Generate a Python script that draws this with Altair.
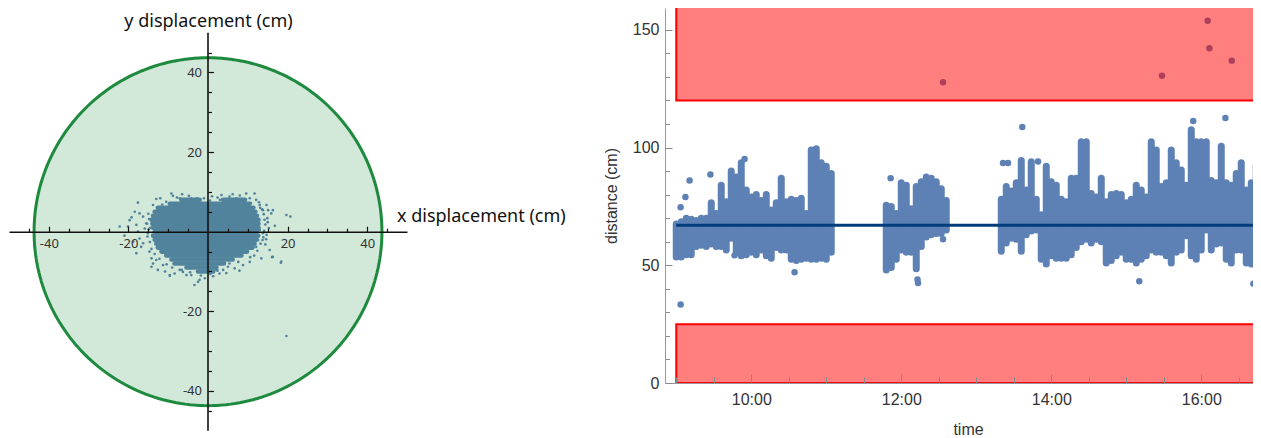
import numpy as np
import pandas as pd
import altair as alt

# ------------------------------------------------------------------
# Left panel: displacement scatter inside a safety circle
# ------------------------------------------------------------------
CIRCLE_RADIUS = 43.7
AXIS_LIMIT = 50
X_TICK_LABELS = [-40, -20, 20, 40]
Y_TICK_LABELS = [-40, -20, 20, 40]
MINOR_TICKS = [-45, -40, -35, -30, -25, -20, -15, -10, -5, 5, 10, 15, 20, 25, 30, 35, 40, 45]

# dense core of the cloud, one row per cm: y, x-start, x-end
CORE_ROW_Y = [8, 8, 7, 6, 5, 4, 3, 2, 1, 0, -1, -2, -3, -4, -5, -6, -7, -8, -9, -10]
CORE_ROW_X0 = [-6.7, 3.8, -9.6, -12.6, -13.4, -13.8, -14.2, -14.0, -13.8, -13.4,
               -13.8, -13.4, -13.0, -12.6, -11.7, -10.5, -9.2, -8.4, -5.4, -2.5]
CORE_ROW_X1 = [-2.1, 9.3, 10.4, 11.4, 11.9, 12.3, 12.7, 12.7, 12.7, 12.3,
               12.6, 12.2, 11.7, 11.2, 9.8, 8.4, 6.2, 4.0, 2.1, 1.3]

# scattered points around the core
FRINGE_X = [-9.2, -8.8, -12.0, -17.6, -13.8, -10.5, -8.4, -7.1, -5.4, -4.2, -2.8, -2.1,
            3.4, 5.4, 7.1, 9.6, 11.7, 10.5, 12.1, 14.7, 15.9, 16.3, 19.7, 20.7, 13.0, 13.8, 15.1,
            -18.4, -17.2, -16.3, -19.7, -18.0, -20.1, -22.2, -15.5, -15.9, -17.6, -15.1, -17.2,
            -18.8, -16.3, -16.8, -18.0, -14.7, -14.2, -13.8, -14.2, -11.3, -13.0,
            13.0, 13.8, 14.7, 12.6, 12.1, 13.4, 16.3, 18.4, 8.8, 6.7, 5.4,
            -9.6, -8.4, -6.3, -5.4, -7.1, -2.1, -0.8, -2.5, 2.1, 2.9, 3.8, 0.4, -4.2,
            19.7, 16.1, 18.3, -12.6, -10.8, -3.4, 1.3, 4.6, 7.9, 10.5, 11.6, -19.2, -21.0,
            -13.0, -6.5, 1.0, 3.0, 8.0, 12.8, 15.0, 16.8, 14.4, 15.5, -9.6, -14.5, 13.7,
            -15.0, -14.8, -15.3, -14.9, -15.2, -14.6, -14.2, -13.4, -12.2, -10.4, -9.0,
            13.6, 14.0, 14.2, 14.4, 14.1, 13.9, 13.2, 12.4, 10.6, 7.6, 5.0,
            -11.5, -7.8, -4.8, -1.0, 0.5, 2.4, 6.2, 9.0, 10.8,
            -4.5, -1.8, 0.6, 2.4, -6.6, 14.9, 15.3, 14.6, 13.1]
FRINGE_Y = [9.6, 9.0, 8.4, 7.3, 6.7, 7.5, 7.1, 8.4, 8.0, 8.4, 8.4, 8.1,
            9.2, 8.8, 8.4, 9.6, 9.6, 8.4, 8.0, 6.7, 4.6, 5.4, 4.2, 3.8, 6.7, 5.4, 5.4,
            5.0, 4.6, 3.8, 2.9, 1.7, 1.3, 1.3, 2.1, 0.8, 0.0, -0.4, -1.7,
            -2.5, -2.9, -3.8, -5.4, -5.0, -6.7, -8.0, -8.8, -8.4, -7.1,
            0.4, -0.4, -0.8, -2.1, -3.8, -6.7, -6.3, -7.5, -8.4, -9.2, -8.0,
            -10.9, -10.5, -10.1, -10.9, -9.6, -12.1, -11.7, -12.6, -9.6, -10.5, -9.6, -9.6, -10.9,
            -26.2, -6.4, -7.8, -9.6, -10.0, -13.4, -11.2, -10.4, -9.8, -7.6, -6.0, 3.6, -1.0,
            8.2, 9.4, 8.9, 8.0, 9.1, 7.4, 2.4, 1.5, -3.2, -4.6, -11.1, 1.0, -2.1,
            4.5, 3.2, 2.0, 0.6, -1.2, -2.6, -4.3, -5.6, -6.8, -8.2, -9.0,
            5.6, 4.4, 3.0, 1.8, 0.2, -1.4, -3.0, -4.8, -6.4, -7.6, -8.8,
            6.8, 8.6, 9.0, 8.4, 7.8, 8.6, 9.4, 8.0, 7.2,
            -10.2, -11.0, -10.6, -9.8, -9.6, 3.4, 0.9, -1.9, 6.0]

# ------------------------------------------------------------------
# Right panel: distance over time
# ------------------------------------------------------------------
BIN_TIMES = ["09:00", "09:04", "09:08", "09:12", "09:16", "09:20", "09:24", "09:28", "09:32",
             "09:36", "09:40", "09:44", "09:48", "09:52", "09:56", "10:00", "10:04", "10:08",
             "10:12", "10:16", "10:20", "10:24", "10:28", "10:32", "10:36", "10:40", "10:44",
             "10:48", "10:52", "10:56", "11:00", "11:04",
             "11:48", "11:52", "11:56", "12:00", "12:04", "12:08", "12:12", "12:16", "12:20",
             "12:24", "12:28", "12:32", "12:36",
             "13:20", "13:24", "13:28", "13:32", "13:36", "13:40", "13:44", "13:48", "13:52",
             "13:56", "14:00", "14:04", "14:08", "14:12", "14:16", "14:20", "14:24", "14:28",
             "14:32", "14:36", "14:40", "14:44", "14:48", "14:52", "14:56", "15:00", "15:04",
             "15:08", "15:12", "15:16", "15:20", "15:24", "15:28", "15:32", "15:36", "15:40",
             "15:44", "15:48", "15:52", "15:56", "16:00", "16:04", "16:08", "16:12", "16:16",
             "16:20", "16:24", "16:28", "16:32", "16:36", "16:40", "16:44", "16:48"]
BIN_LOW = [53.5, 53.5, 54.5, 54.5, 58, 58.5, 58, 59, 58,
           58, 56.5, 61.5, 55.5, 54, 54.5, 55.5, 54.5, 56.5,
           54, 53, 57.5, 56.5, 56.5, 52.5, 52, 52.5, 53,
           52.5, 52.5, 53, 52.5, 55.5,
           48, 49, 52.5, 56.5, 55.5, 55.5, 48.5, 58, 62,
           63, 63.5, 63.5, 65,
           56, 59.5, 61.5, 61, 56, 63, 64.5, 65, 52.5,
           50.5, 54, 53, 53, 53, 54.5, 57.5, 60, 61,
           59.5, 61, 60, 51, 52, 54, 55.5, 52.5, 52.5,
           51, 52.5, 54, 56.5, 55.5, 55.5, 54, 51, 55.5,
           56.5, 62.5, 54, 52.5, 56.5, 65, 56.5, 59, 59.5,
           52.5, 51, 56.5, 56.5, 51, 50.5, 49.5, 52]
BIN_HIGH = [67.5, 68.5, 70, 69.5, 69, 70, 70, 76.5, 72,
            84, 77, 90, 87.5, 93.5, 82, 79, 80, 77.5,
            80, 73.5, 76.5, 87, 77, 78, 77.5, 78.5, 72,
            99, 99.5, 93.5, 92, 89,
            75.5, 75, 72, 85, 84, 74, 83.5, 85.5, 87.5,
            87, 85.5, 82.5, 77.5,
            78, 83.5, 81.5, 85, 94.5, 82, 94, 78, 71.5,
            92, 85.5, 84, 78, 77, 87, 87, 102.5, 102.5,
            80.5, 79, 87, 77, 80, 80.5, 80, 76.5, 78,
            84, 82, 79, 102.5, 99, 83.5, 85, 99, 93.5,
            90.5, 84, 107.5, 102.5, 102.5, 102.5, 86, 85, 100.5,
            85, 84, 89, 93.5, 82, 85, 92, 84]

SINGLE_TIMES = ["09:03:30", "09:03:30", "09:07:20", "09:10:40", "09:27:20", "09:46:40",
                "09:54:40", "10:34:40", "11:51:30", "12:13:00", "12:13:25", "12:33:25",
                "13:21:25", "13:25:25", "13:36:50", "13:49:25", "15:10:25", "15:53:35",
                "16:19:20", "16:41:40", "12:33:25", "15:28:35", "16:05:10", "16:06:30",
                "16:24:25"]
SINGLE_VALUES = [74.6, 33.3, 79.0, 86.0, 88.5, 54.2, 95.1, 47.0, 87.0, 44.0, 42.5, 61.0,
                 93.4, 93.4, 108.7, 94.1, 43.2, 111.3, 112.5, 42.2, 127.7, 130.5, 153.8,
                 142.2, 136.9]

MEAN_DISTANCE = 67.0
LOW_LIMIT = 25
HIGH_LIMIT = 120
BAND_START = "09:00"
BAND_END = "16:46"
Y_TICK_VALUES_R = [0, 50, 100, 150]
Y_MINOR_R = [0, 10, 20, 30, 40, 50, 60, 70, 80, 90, 100, 110, 120, 130, 140, 150]
X_TICK_HOURS = [10, 12, 14, 16]
X_MINOR_HOURS = [9.0, 9.5, 10.0, 10.5, 11.0, 11.5, 12.0, 12.5, 13.0, 13.5, 14.0, 14.5,
                 15.0, 15.5, 16.0, 16.5]


def to_hours(s):
    parts = [int(p) for p in s.split(":")]
    while len(parts) < 3:
        parts.append(0)
    return parts[0] + parts[1] / 60 + parts[2] / 3600


# ------------------------------------------------------------------
# styling / layout constants
# ------------------------------------------------------------------
BLUE = "#5e81b5"
GREEN = "#1d8a3d"
LEFT_FONT = "Noto Sans"
RIGHT_FONT = "Liberation Sans"

W_L, H_L = 398, 422.7
Y_TOP_L = 56.2
W_R, H_R = 588, 375.0
T0 = 8.85
T1 = T0 + W_R / 75.0
Y_TOP_R = 159.25

xs_L = alt.Scale(domain=[-AXIS_LIMIT, AXIS_LIMIT], nice=False, zero=False)
ys_L = alt.Scale(domain=[-AXIS_LIMIT, Y_TOP_L], nice=False, zero=False)
y0_from_bottom = (0 - (-AXIS_LIMIT)) / (Y_TOP_L + AXIS_LIMIT) * H_L
y0_from_top = H_L - y0_from_bottom

# ----- left data frames
core_df = pd.DataFrame({"y": CORE_ROW_Y, "x0": CORE_ROW_X0, "x1": CORE_ROW_X1})
fringe_df = pd.DataFrame({"x": FRINGE_X, "y": FRINGE_Y})
theta = np.linspace(0, 2 * np.pi, 241)
outline_df = pd.DataFrame({"x": CIRCLE_RADIUS * np.cos(theta),
                           "y": CIRCLE_RADIUS * np.sin(theta),
                           "i": np.arange(len(theta))})
half = np.linspace(np.pi, 0, 181)
disk_df = pd.DataFrame({"x": CIRCLE_RADIUS * np.cos(half),
                        "top": CIRCLE_RADIUS * np.sin(half),
                        "bot": -CIRCLE_RADIUS * np.sin(half)})
yaxis_df = pd.DataFrame({"x": [0], "y0": [-AXIS_LIMIT], "y1": [AXIS_LIMIT]})

x_lab_axis_L = alt.Axis(orient="bottom", offset=-y0_from_bottom, values=X_TICK_LABELS,
                        labelExpr="'' + datum.value", ticks=False, tickSize=0, grid=False,
                        domain=True, domainColor="#111111", domainWidth=1.6,
                        labelFont=LEFT_FONT, labelFontSize=13, labelColor="#333333",
                        labelPadding=6, labelFlush=False,
                        title="x displacement (cm)", titleX=387.5, titleY=-10,
                        titleAngle=0, titleAlign="left", titleBaseline="alphabetic",
                        titleFont=LEFT_FONT, titleFontSize=18, titleFontWeight="normal",
                        titleColor="#111111", zindex=1)
y_lab_axis_L = alt.Axis(orient="left", offset=-W_L / 2, values=Y_TICK_LABELS,
                        labelExpr="'' + datum.value", ticks=False, tickSize=0, grid=False,
                        domain=False, labelFont=LEFT_FONT, labelFontSize=13,
                        labelColor="#333333", labelPadding=6.5,
                        title="y displacement (cm)", titleX=0, titleY=18.7, titleAngle=0,
                        titleAlign="center", titleBaseline="alphabetic",
                        titleFont=LEFT_FONT, titleFontSize=18, titleFontWeight="normal",
                        titleColor="#111111", zindex=1)
x_tick_axis_L = alt.Axis(orient="top", offset=-y0_from_top, values=MINOR_TICKS,
                         labels=False, domain=False, grid=False, title=None,
                         tickColor="#111111", tickWidth=1.2,
                         tickSize={"condition": {"test": "datum.value % 20 === 0", "value": 5.5},
                                   "value": 3.5}, zindex=1)
y_tick_axis_L = alt.Axis(orient="right", offset=-W_L / 2, values=MINOR_TICKS,
                         labels=False, domain=False, grid=False, title=None,
                         tickColor="#111111", tickWidth=1.2,
                         tickSize={"condition": {"test": "datum.value % 20 === 0", "value": 5.5},
                                   "value": 3.5}, zindex=1)

core = alt.Chart(core_df).mark_rule(strokeWidth=4.6, color=BLUE, strokeCap="round").encode(
    x=alt.X("x0:Q", scale=xs_L, axis=x_lab_axis_L),
    x2="x1:Q",
    y=alt.Y("y:Q", scale=ys_L, axis=y_lab_axis_L),
)
fringe = alt.Chart(fringe_df).mark_circle(size=7, color=BLUE, opacity=1).encode(
    x=alt.X("x:Q", scale=xs_L, axis=None),
    y=alt.Y("y:Q", scale=ys_L, axis=None),
)
disk = alt.Chart(disk_df).mark_area(color=GREEN, opacity=0.2).encode(
    x=alt.X("x:Q", scale=xs_L, axis=None),
    y=alt.Y("top:Q", scale=ys_L, axis=None),
    y2="bot:Q",
)
outline = alt.Chart(outline_df).mark_line(color=GREEN, strokeWidth=3).encode(
    x=alt.X("x:Q", scale=xs_L, axis=None),
    y=alt.Y("y:Q", scale=ys_L, axis=None),
    order="i:Q",
)
yline = alt.Chart(yaxis_df).mark_rule(color="#111111", strokeWidth=1.6).encode(
    x=alt.X("x:Q", scale=xs_L, axis=x_tick_axis_L),
    y=alt.Y("y0:Q", scale=ys_L, axis=y_tick_axis_L),
    y2="y1:Q",
)
left = alt.layer(core, fringe, disk, outline, yline).resolve_axis(
    x="independent", y="independent").properties(width=W_L, height=H_L)

# ----- right data frames
bins_df = pd.DataFrame({"t": [to_hours(s) for s in BIN_TIMES], "lo": BIN_LOW, "hi": BIN_HIGH})
single_df = pd.DataFrame({"t": [to_hours(s) for s in SINGLE_TIMES], "v": SINGLE_VALUES})
mean_df = pd.DataFrame({"t0": [to_hours(BAND_START)], "t1": [T1 + 1],
                        "v": [MEAN_DISTANCE]})
band_df = pd.DataFrame({"t0": [to_hours(BAND_START)] * 2, "t1": [to_hours(BAND_END)] * 2,
                        "v0": [HIGH_LIMIT, 0], "v1": [160, LOW_LIMIT]})

xs_R = alt.Scale(domain=[T0, T1], nice=False, zero=False)
ys_R = alt.Scale(domain=[0, Y_TOP_R], nice=False, zero=False)

x_lab_axis_R = alt.Axis(orient="bottom", values=X_TICK_HOURS, labelExpr="datum.value + ':00'",
                        ticks=False, tickSize=0, grid=False, domainColor="#999999",
                        domainWidth=1, labelFont=RIGHT_FONT, labelFontSize=16,
                        labelColor="#333333", labelPadding=8, labelFlush=False,
                        title="time", titleX=303, titlePadding=14, titleFont=RIGHT_FONT,
                        titleFontSize=16, titleFontWeight="normal", titleColor="#333333")
y_lab_axis_R = alt.Axis(orient="left", values=Y_TICK_VALUES_R, ticks=False, tickSize=0,
                        grid=False, domainColor="#999999", domainWidth=1,
                        labelFont=RIGHT_FONT, labelFontSize=16, labelColor="#333333",
                        labelPadding=6, title="distance (cm)", titlePadding=13,
                        titleFont=RIGHT_FONT, titleFontSize=16, titleFontWeight="normal",
                        titleColor="#333333")
x_tick_axis_R = alt.Axis(orient="top", offset=-H_R, values=X_MINOR_HOURS, labels=False,
                         domain=False, grid=False, title=None, tickColor="#8a8a8a",
                         tickWidth=1,
                         tickSize={"condition": {"test": "datum.value % 2 === 0", "value": 9},
                                   "value": 6}, zindex=1)
y_tick_axis_R = alt.Axis(orient="right", offset=-W_R, values=Y_MINOR_R, labels=False,
                         domain=False, grid=False, title=None, tickColor="#8a8a8a",
                         tickWidth=1,
                         tickSize={"condition": {"test": "datum.value % 50 === 0", "value": 7},
                                   "value": 4.5}, zindex=1)

bins = alt.Chart(bins_df).mark_rule(strokeWidth=7, strokeCap="round", color=BLUE,
                                    clip=True).encode(
    x=alt.X("t:Q", scale=xs_R, axis=x_lab_axis_R),
    y=alt.Y("lo:Q", scale=ys_R, axis=y_lab_axis_R),
    y2="hi:Q",
)
singles = alt.Chart(single_df).mark_circle(size=42, color=BLUE, opacity=1, clip=True).encode(
    x=alt.X("t:Q", scale=xs_R, axis=None),
    y=alt.Y("v:Q", scale=ys_R, axis=None),
)
mean_line = alt.Chart(mean_df).mark_rule(strokeWidth=3, color="#003d7a", clip=True).encode(
    x=alt.X("t0:Q", scale=xs_R, axis=None),
    x2="t1:Q",
    y=alt.Y("v:Q", scale=ys_R, axis=None),
)
bands = alt.Chart(band_df).mark_rect(fill="#ff0000", fillOpacity=0.5, stroke="#ff0000",
                                     strokeWidth=2, clip=True).encode(
    x=alt.X("t0:Q", scale=xs_R, axis=x_tick_axis_R),
    x2="t1:Q",
    y=alt.Y("v0:Q", scale=ys_R, axis=y_tick_axis_R),
    y2="v1:Q",
)
right = alt.layer(bins, singles, mean_line, bands).resolve_axis(
    x="independent", y="independent").properties(width=W_R, height=H_R)

chart = alt.hconcat(left, right, spacing=37).properties(
    padding={"left": 1, "top": 0, "right": 0, "bottom": 0}
).configure_view(strokeWidth=0)

chart.save("out.html", embed_options={"renderer": "svg", "actions": False})
